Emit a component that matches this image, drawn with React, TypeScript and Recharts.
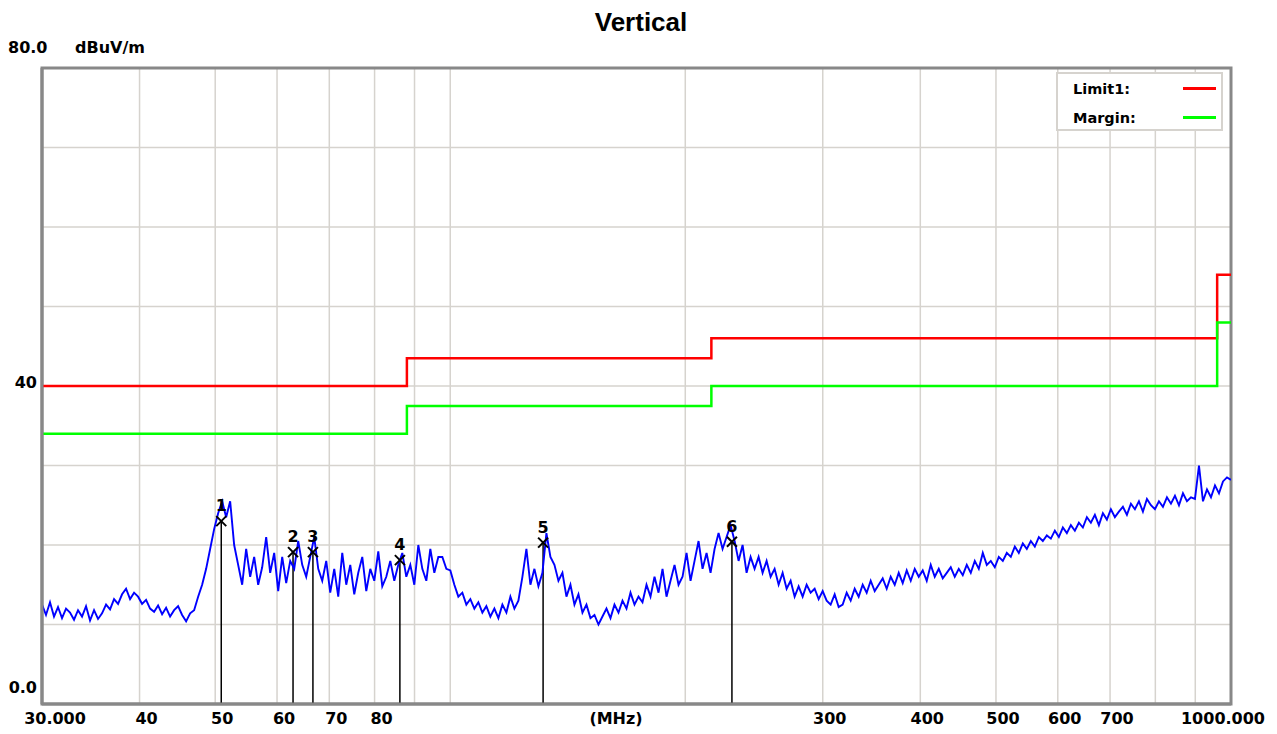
import React from "react";
import {
  ComposedChart,
  Line,
  Scatter,
  XAxis,
  YAxis,
  CartesianGrid,
  ReferenceLine,
  ReferenceArea,
} from "recharts";

// ── Sweep (30 MHz .. 1 GHz, log-spaced receiver points) ───────────────────
const SWEEP_START = 30;
const SWEEP_STOP = 1000;

const TRACE_DB = [
  12.5, 11.2, 12.8, 11.0, 12.2, 10.8, 12.0, 11.5, 10.6, 11.8,
  11.0, 12.3, 10.5, 11.8, 10.7, 11.4, 12.5, 11.9, 13.2, 12.6,
  13.8, 14.5, 13.2, 14.0, 13.5, 12.6, 13.1, 12.0, 11.6, 12.4,
  11.3, 12.1, 11.0, 11.8, 12.3, 11.2, 10.4, 11.4, 11.8, 13.5,
  15.0, 17.0, 19.5, 22.0, 24.0, 25.5, 23.5, 25.5, 20.0, 17.5,
  15.0, 19.5, 16.0, 18.5, 15.0, 17.2, 21.0, 16.5, 19.0, 14.2,
  18.5, 15.2, 18.0, 17.0, 20.5, 17.5, 16.0, 18.5, 21.0, 17.0,
  15.5, 18.0, 14.0, 17.0, 13.5, 19.0, 15.0, 17.5, 13.8, 16.5,
  18.5, 14.2, 17.0, 15.5, 19.2, 14.8, 16.0, 18.0, 15.5, 17.5,
  19.0, 16.0, 17.5, 15.0, 20.0, 17.0, 15.5, 19.5, 16.5, 18.5,
  18.5, 17.0, 16.8, 15.0, 13.5, 14.0, 12.5, 13.2, 12.0, 12.8,
  11.5, 12.3, 11.0, 12.0, 10.8, 12.5, 11.5, 13.5, 12.0, 13.0,
  16.0, 19.5, 15.0, 17.0, 14.8, 16.5, 21.5, 18.5, 17.5, 15.5,
  16.5, 13.5, 15.0, 12.5, 13.8, 11.5, 12.5, 10.8, 11.2, 10.0,
  11.0, 12.0, 10.8, 12.5, 11.5, 13.0, 12.0, 14.0, 12.5, 13.5,
  12.8, 15.0, 13.5, 16.0, 14.0, 17.0, 13.5, 15.5, 17.5, 15.0,
  16.0, 19.0, 15.5, 18.0, 20.5, 17.0, 19.0, 16.5, 19.5, 21.5,
  19.5, 21.0, 22.5, 20.5, 18.0, 20.0, 16.5, 18.5, 17.0, 18.5,
  16.5, 18.0, 16.0, 17.0, 15.0, 16.5, 14.5, 15.5, 13.5, 14.8,
  13.5, 15.0, 14.0, 14.5, 13.2, 14.2, 13.0, 12.5, 13.8, 12.2,
  12.5, 14.0, 13.0, 14.5, 13.5, 15.0, 14.0, 15.5, 14.2, 15.0,
  15.8, 14.5, 16.0, 15.0, 16.5, 15.2, 16.8, 15.5, 17.0, 16.0,
  16.8, 15.5, 17.5, 16.0, 17.0, 15.8, 16.5, 17.2, 16.0, 17.0,
  16.2, 17.5, 16.5, 18.0, 17.0, 19.0, 17.5, 18.0, 17.2, 18.5,
  18.0, 19.0, 18.5, 19.8, 19.0, 20.2, 19.5, 20.5, 19.8, 21.0,
  20.5, 21.2, 20.8, 21.8, 21.0, 22.2, 21.5, 22.5, 21.8, 22.8,
  22.2, 23.5, 22.8, 23.8, 22.5, 24.0, 23.2, 24.5, 23.5, 24.2,
  24.8, 23.8, 25.2, 24.5, 25.5, 24.2, 25.8, 25.0, 24.5, 25.5,
  24.8, 26.0, 25.2, 26.2, 25.0, 26.5, 25.5, 26.0, 25.8, 30.0,
  25.5, 27.0, 26.0, 27.5, 26.5, 28.0, 28.5, 28.2,
];

// ── Limit line (step) + margin line ───────────────────────────────────────
const LIMIT_FREQ = [30, 88, 88, 216, 216, 960, 960, 1000];
const LIMIT_DB = [40, 40, 43.5, 43.5, 46, 46, 54, 54];
const MARGIN_DB = [34, 34, 37.5, 37.5, 40, 40, 48, 48];

// ── Peak markers ──────────────────────────────────────────────────────────
const MARKER_NO = [1, 2, 3, 4, 5, 6];
const MARKER_FREQ = [50.9, 62.9, 66.7, 86.2, 131.5, 229.5];
const MARKER_DB = [23.0, 19.1, 19.1, 18.1, 20.3, 20.4];

// ── Axes ──────────────────────────────────────────────────────────────────
const X_TICKS = [30, 40, 50, 60, 70, 80, 90, 100, 200, 300, 400, 500, 600, 700, 800, 900, 1000];
const X_TICK_LABELS = ["30.000", "40", "50", "60", "70", "80", "", "", "", "300", "400", "500", "600", "700", "", "", "1000.000"];
const Y_TICKS = [0, 10, 20, 30, 40, 50, 60, 70, 80];

const traceData = TRACE_DB.map((v, i) => ({
  f: SWEEP_START * Math.pow(SWEEP_STOP / SWEEP_START, i / (TRACE_DB.length - 1)),
  v,
}));
const limitData = LIMIT_FREQ.map((f, i) => ({ f, v: LIMIT_DB[i] }));
const marginData = LIMIT_FREQ.map((f, i) => ({ f, v: MARGIN_DB[i] }));
const markerData = MARKER_NO.map((n, i) => ({ n, f: MARKER_FREQ[i], v: MARKER_DB[i] }));

const FONT = "'DejaVu Sans', Verdana, sans-serif";
const GRID = "#d6d3ce";
const FRAME = "#888888";

const textStyle = { fontFamily: FONT, fontWeight: 700, fontSize: 16, fill: "#000" };

function XTick(props: any) {
  const { x, payload } = props;
  const idx = X_TICKS.indexOf(payload.value);
  const label = X_TICK_LABELS[idx];
  if (!label) return <g />;
  const dx = payload.value === 30 ? 13 : payload.value === 1000 ? -8 : 7;
  return (
    <text x={x + dx} y={724} textAnchor="middle" style={textStyle}>
      {label}
    </text>
  );
}

function YTick(props: any) {
  const { y, payload } = props;
  const v = payload.value;
  if (v === 80)
    return (
      <g>
        <text x={8} y={y - 15} style={textStyle}>80.0</text>
        <text x={75} y={y - 15} style={textStyle}>dBuV/m</text>
      </g>
    );
  if (v === 40)
    return <text x={37} y={y + 1.5} textAnchor="end" style={textStyle}>40</text>;
  if (v === 0)
    return <text x={37} y={y - 11} textAnchor="end" style={textStyle}>0.0</text>;
  return <g />;
}

function MarkerShape(props: any) {
  const { cx, cy, payload } = props;
  const s = 5;
  return (
    <g>
      <line x1={cx - s} y1={cy - s} x2={cx + s} y2={cy + s} stroke="#000" strokeWidth={2} />
      <line x1={cx - s} y1={cy + s} x2={cx + s} y2={cy - s} stroke="#000" strokeWidth={2} />
      <text x={cx} y={cy - 10} textAnchor="middle" style={textStyle}>
        {payload.n}
      </text>
    </g>
  );
}

function LegendBox() {
  const row = (label: string, color: string) => (
    <div style={{ display: "flex", alignItems: "center", height: 29 }}>
      <span style={{ fontFamily: FONT, fontWeight: 700, fontSize: 14.5, width: 110, paddingLeft: 15 }}>{label}</span>
      <span style={{ display: "inline-block", width: 33, height: 3, background: color }} />
    </div>
  );
  return (
    <div
      style={{
        position: "absolute",
        left: 1056,
        top: 72,
        width: 163,
        height: 55,
        border: `2px solid ${GRID}`,
        background: "#fff",
      }}
    >
      {row("Limit1:", "#ff0000")}
      {row("Margin:", "#00ff00")}
    </div>
  );
}

export default function App() {
  return (
    <div style={{ position: "absolute", left: 0, top: 0, width: 1277, height: 734, background: "#fff" }}>
      <div
        style={{
          position: "absolute",
          top: 9,
          left: 0,
          width: 1282,
          textAlign: "center",
          fontFamily: "'Liberation Sans', Arial, sans-serif",
          fontWeight: 700,
          fontSize: 26,
          lineHeight: "26px",
        }}
      >
        Vertical
      </div>
      <ComposedChart width={1277} height={734} margin={{ top: 68, right: 46, bottom: 0, left: 0 }}>
        <CartesianGrid stroke={GRID} strokeWidth={1.5} />
        <XAxis
          type="number"
          dataKey="f"
          scale="log"
          domain={[SWEEP_START, SWEEP_STOP]}
          ticks={X_TICKS}
          interval={0}
          allowDataOverflow
          tickLine={false}
          axisLine={{ stroke: FRAME, strokeWidth: 3 }}
          tick={<XTick />}
          height={30}
          label={() => (
            <text x={616} y={724} textAnchor="middle" style={textStyle}>
              (MHz)
            </text>
          )}
        />
        <YAxis
          type="number"
          dataKey="v"
          domain={[0, 80]}
          ticks={Y_TICKS}
          interval={0}
          tickLine={false}
          axisLine={{ stroke: FRAME, strokeWidth: 3 }}
          tick={<YTick />}
          width={42}
        />
        {MARKER_FREQ.map((f, i) => (
          <ReferenceLine
            key={`m${i}`}
            segment={[{ x: f, y: 0 }, { x: f, y: MARKER_DB[i] }]}
            stroke="#000"
            strokeWidth={1.5}
          />
        ))}
        <Line
          data={traceData}
          dataKey="v"
          type="linear"
          stroke="#0000ff"
          strokeWidth={1.9}
          dot={false}
          isAnimationActive={false}
        />
        <Line
          data={limitData}
          dataKey="v"
          type="linear"
          stroke="#ff0000"
          strokeWidth={2.5}
          dot={false}
          isAnimationActive={false}
        />
        <Line
          data={marginData}
          dataKey="v"
          type="linear"
          stroke="#00ff00"
          strokeWidth={2.5}
          dot={false}
          isAnimationActive={false}
        />
        <Scatter data={markerData} dataKey="v" shape={<MarkerShape />} isAnimationActive={false} />
        <ReferenceArea
          x1={SWEEP_START}
          x2={SWEEP_STOP}
          y1={0}
          y2={80}
          fill="none"
          stroke={FRAME}
          strokeWidth={3}
        />
      </ComposedChart>
      <LegendBox />
    </div>
  );
}
